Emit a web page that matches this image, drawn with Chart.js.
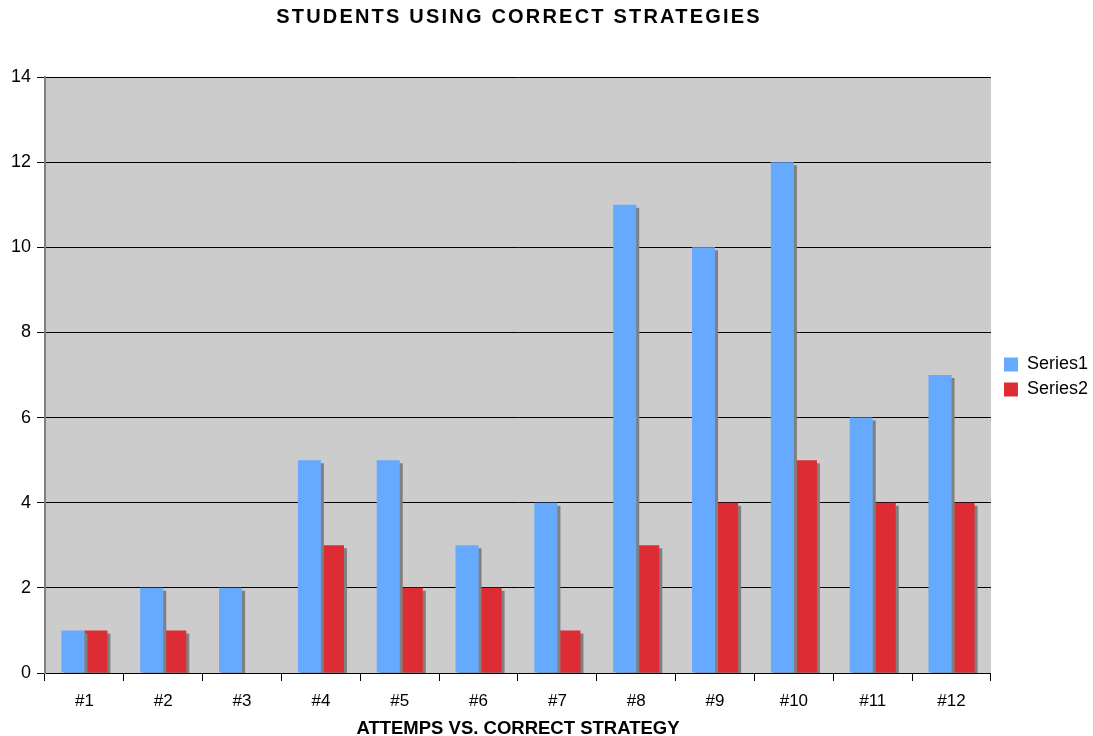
<!DOCTYPE html>
<html>
<head>
<meta charset="utf-8">
<script src="https://cdn.jsdelivr.net/npm/chart.js@4/dist/chart.umd.min.js"></script>
<style>
  html, body { margin: 0; padding: 0; background: #fff; }
</style>
</head>
<body>
<canvas id="chart" width="1093" height="736"></canvas>
<script>
// Data
const categories = ['#1', '#2', '#3', '#4', '#5', '#6', '#7', '#8', '#9', '#10', '#11', '#12'];
const series1 = [1, 2, 2, 5, 5, 3, 4, 11, 10, 12, 6, 7];
const series2 = [1, 1, 0, 3, 2, 2, 1, 3, 4, 5, 4, 4];
const yTicks = [0, 2, 4, 6, 8, 10, 12, 14];
const chartTitle = 'STUDENTS USING CORRECT STRATEGIES';

const FONT = '"Liberation Sans", Arial, sans-serif';

// Gray plot background, and legend centred beside the plot like Excel does
const plotBg = {
    id: 'plotBg',
    beforeDraw(chart) {
        const { ctx, chartArea: a } = chart;
        ctx.save();
        ctx.fillStyle = '#cccccc';
        ctx.fillRect(a.left, a.top, a.right - a.left, a.bottom - a.top);
        ctx.restore();
        chart.legend.top = a.top + 2;
        chart.legend.bottom = a.bottom + 2;
        chart.legend.left = a.right + 6;
    }
};

// Drop shadow behind bars (offset right/down)
const barShadow = {
    id: 'barShadow',
    beforeDatasetDraw(chart) {
        const ctx = chart.ctx;
        ctx.save();
        ctx.shadowColor = '#808080';
        ctx.shadowOffsetX = 3;
        ctx.shadowOffsetY = 3;
        ctx.shadowBlur = 0;
    },
    afterDatasetDraw(chart) {
        chart.ctx.restore();
    }
};

// Title, letter-spaced like the original, centred over the plot
const spacedTitle = {
    id: 'spacedTitle',
    afterDraw(chart) {
        const { ctx, chartArea: a } = chart;
        ctx.save();
        ctx.font = 'bold 20px ' + FONT;
        ctx.letterSpacing = '2.2px';
        ctx.fillStyle = '#000';
        ctx.textAlign = 'center';
        ctx.textBaseline = 'middle';
        ctx.fillText(chartTitle, (a.left + a.right) / 2 + 1, 17);
        ctx.restore();
    }
};

new Chart(document.getElementById('chart'), {
    type: 'bar',
    data: {
        labels: categories,
        datasets: [
            { label: 'Series1', data: series1, backgroundColor: '#66aaff', borderWidth: 0 },
            { label: 'Series2', data: series2, backgroundColor: '#dd2c33', borderWidth: 0 }
        ]
    },
    options: {
        responsive: false,
        animation: false,
        devicePixelRatio: 1,
        layout: { padding: { left: 0, right: 1, top: 77, bottom: 0 } },
        datasets: {
            bar: { categoryPercentage: 0.585, barPercentage: 1.0 }
        },
        plugins: {
            title: { display: false },
            legend: {
                position: 'right',
                labels: {
                    color: '#000',
                    font: { family: FONT, size: 18 },
                    boxWidth: 14,
                    boxHeight: 14,
                    padding: 7
                }
            },
            tooltip: { enabled: false }
        },
        scales: {
            x: {
                afterFit(scale) { scale.height = 63; },
                grid: { offset: true, drawOnChartArea: false, drawTicks: true, tickLength: 8, color: '#000' },
                border: { color: '#000', width: 1 },
                ticks: { color: '#000', font: { family: FONT, size: 17 }, padding: 10, maxRotation: 0 },
                title: {
                    display: true,
                    text: 'ATTEMPS VS. CORRECT STRATEGY',
                    color: '#000',
                    font: { family: FONT, size: 18.5, weight: 'bold' },
                    padding: { top: 4, bottom: -4 }
                }
            },
            y: {
                min: 0,
                max: 14,
                afterBuildTicks(scale) { scale.ticks = yTicks.map(v => ({ value: v })); },
                afterFit(scale) { scale.width = 45; },
                grid: { color: '#000', tickLength: 8 },
                border: { color: '#808080', width: 2 },
                ticks: { color: '#000', font: { family: FONT, size: 18 }, padding: 6 }
            }
        }
    },
    plugins: [plotBg, barShadow, spacedTitle]
});
</script>
</body>
</html>
